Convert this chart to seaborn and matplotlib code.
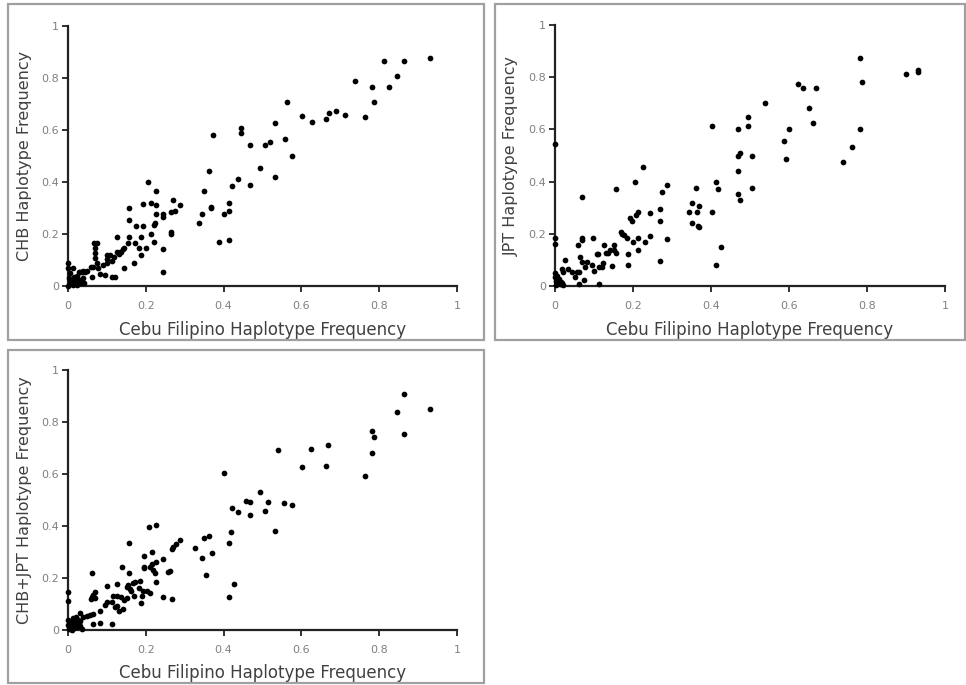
import numpy as np
import pandas as pd
import seaborn as sns
import matplotlib.pyplot as plt
from matplotlib.patches import Rectangle

# Frequencias (x = Cebu Filipino, y = populacao de referencia)
cebu_chb = [0.206, 0.226, 0.213, 0.194, 0.156, 0.270, 0.288, 0.275, 0.264, 0.226, 0.227, 0.245,
            0.245, 0.224, 0.220, 0.194, 0.175, 0.156, 0.264, 0.264, 0.213, 0.220, 0.187, 0.156,
            0.125, 0.155, 0.173, 0.182, 0.201, 0.187, 0.170, 0.144, 0.244, 0.244, 0.145, 0.137,
            0.130, 0.117, 0.113, 0.121, 0.113, 0.096, 0.082, 0.100, 0.100, 0.100, 0.091, 0.074,
            0.068, 0.070, 0.070, 0.070, 0.074, 0.065, 0.058, 0.078, 0.061, 0.050, 0.039, 0.031,
            0.0, 0.0, 0.005, 0.014, 0.015, 0.009, 0.022, 0.027, 0.031, 0.035, 0.039, 0.005,
            0.018, 0.027, 0.035, 0.044, 0.022, 0.012, 0.003, 0.041, 0.0, 0.008, 0.020,
            0.108, 0.125, 0.134, 0.142,
            0.336, 0.344, 0.350, 0.363, 0.368, 0.368, 0.374, 0.387, 0.400, 0.414, 0.414, 0.414,
            0.421, 0.438, 0.445, 0.445, 0.467, 0.467, 0.494, 0.506, 0.520, 0.531, 0.531, 0.557,
            0.563, 0.576, 0.601, 0.626, 0.663, 0.670, 0.688, 0.713, 0.738, 0.763, 0.782, 0.787,
            0.812, 0.826, 0.845, 0.863, 0.931]
chb = [0.399, 0.365, 0.321, 0.315, 0.299, 0.331, 0.310, 0.290, 0.285, 0.313, 0.277, 0.277,
       0.267, 0.244, 0.235, 0.231, 0.231, 0.254, 0.209, 0.200, 0.199, 0.168, 0.187, 0.187,
       0.187, 0.164, 0.167, 0.145, 0.145, 0.119, 0.090, 0.068, 0.144, 0.055, 0.145, 0.132,
       0.123, 0.113, 0.096, 0.033, 0.033, 0.042, 0.046, 0.119, 0.104, 0.087, 0.081, 0.167,
       0.167, 0.145, 0.126, 0.106, 0.087, 0.074, 0.074, 0.068, 0.036, 0.059, 0.059, 0.055,
       0.087, 0.068, 0.049, 0.068, 0.036, 0.023, 0.038, 0.055, 0.023, 0.055, 0.029, 0.010,
       0.010, 0.010, 0.010, 0.055, 0.004, 0.004, 0.029, 0.010, 0.0, 0.018, 0.020,
       0.119, 0.132, 0.132, 0.141,
       0.244, 0.276, 0.365, 0.442, 0.305, 0.299, 0.582, 0.171, 0.277, 0.321, 0.290, 0.177,
       0.385, 0.410, 0.609, 0.587, 0.542, 0.388, 0.455, 0.542, 0.555, 0.626, 0.420, 0.565,
       0.709, 0.499, 0.654, 0.632, 0.642, 0.664, 0.673, 0.659, 0.787, 0.651, 0.764, 0.709,
       0.864, 0.764, 0.809, 0.864, 0.876]

cebu_jpt = [0.0, 0.0, 0.0, 0.0, 0.0, 0.003, 0.005, 0.008, 0.010, 0.002, 0.012, 0.015, 0.005,
            0.020, 0.017, 0.007,
            0.026, 0.019, 0.021, 0.034, 0.043, 0.051, 0.056, 0.062, 0.062, 0.075, 0.064, 0.068,
            0.081, 0.077, 0.058, 0.068, 0.070, 0.068, 0.098, 0.096, 0.101, 0.107, 0.111, 0.113,
            0.114, 0.120, 0.124, 0.126, 0.132, 0.137, 0.141, 0.145, 0.150, 0.152, 0.156, 0.156,
            0.168, 0.173, 0.177, 0.184, 0.188, 0.188, 0.192, 0.198, 0.201, 0.205, 0.207, 0.212,
            0.212, 0.214, 0.225, 0.231, 0.244, 0.244, 0.268, 0.268, 0.269, 0.274, 0.288, 0.287,
            0.344, 0.350, 0.350, 0.362, 0.363, 0.366, 0.369, 0.369,
            0.402, 0.402, 0.412, 0.419, 0.425, 0.412, 0.468, 0.494, 0.494, 0.468, 0.474, 0.506,
            0.468, 0.468, 0.475, 0.506, 0.538, 0.587, 0.592, 0.599, 0.624, 0.637, 0.668, 0.650,
            0.662, 0.738, 0.762, 0.781, 0.781, 0.786, 0.900, 0.930, 0.930]
jpt = [0.545, 0.182, 0.160, 0.050, 0.035, 0.020, 0.040, 0.010, 0.025, 0.005, 0.008, 0.015, 0.030,
       0.005, 0.012, 0.015,
       0.101, 0.067, 0.054, 0.067, 0.054, 0.035, 0.054, 0.054, 0.009, 0.022, 0.112, 0.092,
       0.092, 0.073, 0.156, 0.176, 0.182, 0.340, 0.182, 0.082, 0.058, 0.124, 0.124, 0.006,
       0.073, 0.073, 0.088, 0.156, 0.128, 0.128, 0.137, 0.078, 0.156, 0.137, 0.127, 0.372,
       0.208, 0.201, 0.195, 0.182, 0.124, 0.079, 0.259, 0.250, 0.169, 0.397, 0.272, 0.285,
       0.137, 0.182, 0.455, 0.169, 0.281, 0.191, 0.294, 0.095, 0.249, 0.362, 0.386, 0.181,
       0.283, 0.317, 0.240, 0.376, 0.283, 0.229, 0.227, 0.308,
       0.613, 0.284, 0.397, 0.372, 0.148, 0.079, 0.602, 0.648, 0.613, 0.499, 0.508, 0.499,
       0.442, 0.351, 0.330, 0.374, 0.702, 0.557, 0.488, 0.602, 0.773, 0.760, 0.760, 0.681,
       0.625, 0.475, 0.533, 0.602, 0.875, 0.783, 0.813, 0.820, 0.826]

cebu_both = [0.207, 0.226, 0.157, 0.288, 0.277, 0.271, 0.267, 0.326, 0.195, 0.215, 0.245, 0.225,
             0.215, 0.195, 0.195, 0.211, 0.218, 0.224, 0.226, 0.257, 0.262, 0.139, 0.157, 0.061,
             0.185, 0.172, 0.168, 0.155, 0.151, 0.159, 0.162, 0.183, 0.194, 0.202, 0.210, 0.189,
             0.170, 0.152, 0.144, 0.125, 0.135, 0.115, 0.114, 0.125, 0.141, 0.132, 0.121, 0.099,
             0.125, 0.188, 0.245, 0.268, 0.070, 0.065, 0.061, 0.058, 0.070, 0.099, 0.095, 0.082,
             0.065, 0.057, 0.048, 0.039, 0.031, 0.082, 0.063, 0.114, 0.0, 0.0,
             0.0, 0.0, 0.005, 0.008, 0.012, 0.015, 0.018, 0.022, 0.025, 0.028, 0.030, 0.003,
             0.010, 0.020, 0.032, 0.035, 0.016,
             0.863, 0.845, 0.931, 0.863, 0.781, 0.787, 0.781, 0.763, 0.669, 0.662, 0.625, 0.601,
             0.539, 0.401, 0.494, 0.457, 0.469, 0.513, 0.422, 0.438, 0.469, 0.506, 0.556, 0.576,
             0.532, 0.350, 0.363, 0.420, 0.413, 0.370, 0.345, 0.354, 0.426, 0.413]
chb_jpt = [0.397, 0.403, 0.333, 0.346, 0.329, 0.321, 0.310, 0.317, 0.286, 0.300, 0.274, 0.263,
           0.253, 0.244, 0.238, 0.241, 0.231, 0.218, 0.186, 0.224, 0.227, 0.241, 0.218, 0.221,
           0.190, 0.183, 0.179, 0.173, 0.167, 0.156, 0.150, 0.163, 0.150, 0.150, 0.144, 0.132,
           0.132, 0.124, 0.115, 0.131, 0.128, 0.131, 0.106, 0.094, 0.082, 0.074, 0.090, 0.169,
           0.177, 0.105, 0.128, 0.119, 0.147, 0.135, 0.126, 0.118, 0.122, 0.109, 0.096, 0.074,
           0.062, 0.058, 0.054, 0.051, 0.064, 0.026, 0.022, 0.022, 0.147, 0.113,
           0.040, 0.020, 0.030, 0.010, 0.045, 0.020, 0.035, 0.010, 0.040, 0.025, 0.015, 0.005,
           0.0, 0.050, 0.035, 0.005, 0.008,
           0.906, 0.840, 0.849, 0.755, 0.765, 0.744, 0.682, 0.591, 0.710, 0.632, 0.696, 0.627,
           0.692, 0.604, 0.532, 0.496, 0.492, 0.492, 0.470, 0.453, 0.441, 0.459, 0.487, 0.481,
           0.380, 0.353, 0.363, 0.376, 0.335, 0.296, 0.278, 0.210, 0.178, 0.127]

ticks = [0, 0.2, 0.4, 0.6, 0.8, 1]
tick_labels = ['0', '0.2', '0.4', '0.6', '0.8', '1']
xlabel = 'Cebu Filipino Haplotype Frequency'

sns.set_style('white')
plt.rcParams['font.family'] = ['DejaVu Sans']

W, H = 966, 685
fig = plt.figure(figsize=(W / 100, H / 100), dpi=100)


def px_rect(x0, y0, x1, y1):
    """Converte um retangulo em pixels (origem no topo) para coordenadas da figura."""
    return [x0 / W, 1 - y1 / H, (x1 - x0) / W, (y1 - y0) / H]


# (x, y, rotulo y, area dos eixos, moldura, centro do rotulo y, centro do rotulo x) em pixels
paineis = [
    (cebu_chb, chb, 'CHB Haplotype Frequency', (68, 26, 457, 286), (8, 4, 484, 340), 25, 330),
    (cebu_jpt, jpt, 'JPT Haplotype Frequency', (555, 25, 945, 286), (495, 4, 965, 340), 511, 330),
    (cebu_both, chb_jpt, 'CHB+JPT Haplotype Frequency', (68, 370, 457, 630), (8, 350, 484, 683), 25, 673),
]

for xs, ys, ylabel, ax_px, box_px, ylab_x, xlab_y in paineis:
    # Moldura cinza do painel
    bx = px_rect(*box_px)
    fig.patches.append(Rectangle((bx[0], bx[1]), bx[2], bx[3], transform=fig.transFigure,
                                 fill=False, edgecolor='#a0a0a0', linewidth=1.6))

    ax = fig.add_axes(px_rect(*ax_px))
    df = pd.DataFrame({'x': xs, 'y': ys})
    sns.scatterplot(data=df, x='x', y='y', ax=ax, color='black', s=17, linewidth=0,
                    clip_on=False, zorder=5)
    ax.set_xlim(0, 1)
    ax.set_ylim(0, 1)
    ax.set_xticks(ticks)
    ax.set_yticks(ticks)
    ax.set_xticklabels(tick_labels)
    ax.set_yticklabels(tick_labels)
    ax.tick_params(axis='both', direction='out', length=4.5, width=1.3, color='#222222',
                   labelsize=8, labelcolor='#808080', bottom=True, left=True)
    ax.tick_params(axis='x', pad=6)
    ax.tick_params(axis='y', pad=2)
    for side in ['top', 'right']:
        ax.spines[side].set_visible(False)
    for side in ['left', 'bottom']:
        ax.spines[side].set_color('#222222')
        ax.spines[side].set_linewidth(1.6)

    x0, y0, x1, y1 = ax_px
    ax.set_xlabel(xlabel, fontsize=12, color='#404040', va='center')
    ax.xaxis.set_label_coords(0.5, (y1 - xlab_y) / (y1 - y0))
    ax.set_ylabel(ylabel, fontsize=11.5, color='#404040', va='center')
    ax.yaxis.set_label_coords((ylab_x - x0) / (x1 - x0), 0.5)

plt.savefig('out.png', dpi=100)
